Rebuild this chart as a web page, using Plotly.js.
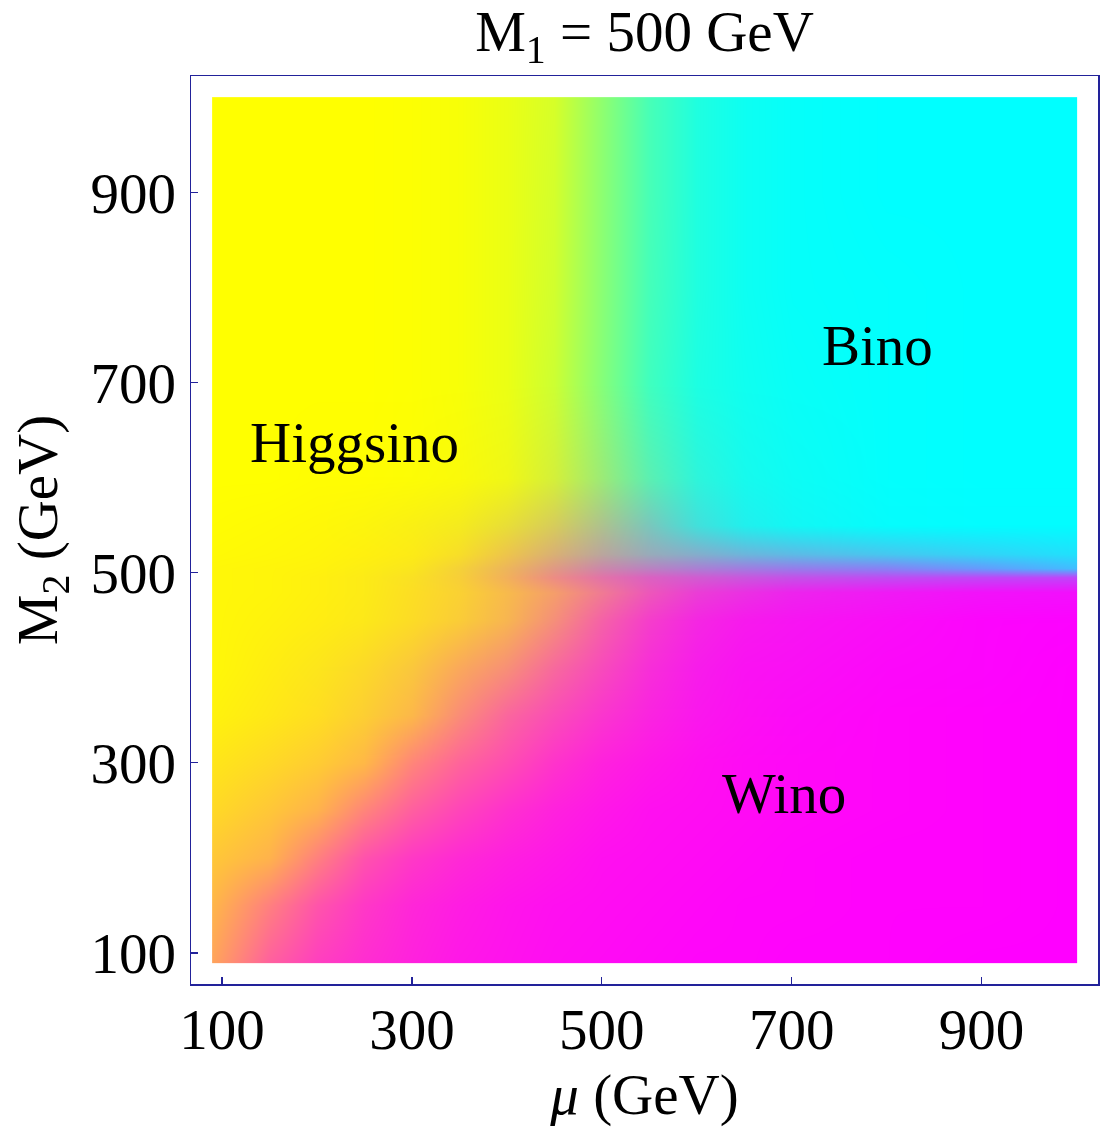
<!DOCTYPE html>
<html>
<head>
<meta charset="utf-8">
<script src="https://cdn.plot.ly/plotly-3.0.1.min.js"></script>
<style>
  html, body { margin: 0; padding: 0; background: #ffffff; }
  #chart .heatmaplayer image { mix-blend-mode: multiply; }
</style>
</head>
<body>
<div id="chart" style="width:1104px;height:1133px;"></div>
<script>
// grid of mu (columns) and M2 (rows), GeV
const MU = [90, 150, 200, 250, 300, 350, 400, 450, 500, 550, 600, 650, 700, 800, 900, 1000];
const M2 = [90, 150, 200, 250, 300, 350, 400, 450, 480, 495, 505, 520, 550, 600, 700, 800, 900, 1000];

// composition of the lightest neutralino in percent, rows follow M2, columns follow MU
const HIGGSINO = [
  [64, 38, 25, 18, 13,  9,  7,  5,  4,  3,  2,  2,  1,  1,  0,  0],
  [71, 50, 33, 22, 15, 11,  8,  6,  5,  4,  3,  2,  2,  1,  1,  0],
  [78, 70, 50, 32, 22, 16, 12,  9,  6,  5,  4,  3,  2,  1,  1,  0],
  [85, 78, 70, 52, 37, 27, 19, 13,  9,  6,  5,  4,  3,  2,  1,  0],
  [90, 85, 80, 72, 52, 39, 30, 20, 13,  9,  6,  4,  3,  2,  1,  0],
  [95, 91, 87, 80, 71, 53, 38, 28, 19, 12,  7,  5,  3,  2,  1,  0],
  [97, 93, 89, 84, 76, 64, 53, 38, 26, 15,  8,  5,  4,  2,  1,  0],
  [97, 95, 93, 90, 85, 78, 68, 52, 34, 20, 11,  7,  5,  3,  1,  0],
  [97, 96, 94, 91, 86, 80, 70, 58, 42, 27, 16, 11,  7,  4,  2,  1],
  [97, 96, 94, 91, 86, 78, 64, 48, 34, 24, 18, 13,  9,  5,  3,  2],
  [97, 96, 95, 92, 88, 78, 64, 48, 33, 24, 17, 12,  8,  4,  1,  0],
  [98, 97, 96, 94, 91, 84, 70, 54, 38, 27, 20, 14, 10,  6,  3,  1],
  [99, 98, 97, 95, 92, 88, 78, 64, 44, 26, 14,  7,  4,  1,  0,  0],
  [100,100, 99, 99, 98, 96, 91, 77, 53, 30, 14,  7,  4,  1,  0,  0],
  [100,100,100,100, 99, 97, 92, 80, 52, 25, 11,  6,  3,  1,  0,  0],
  [100,100,100,100, 99, 97, 92, 82, 54, 27, 12,  5,  2,  1,  0,  0],
  [100,100,100,100, 99, 97, 92, 83, 55, 28, 12,  5,  2,  0,  0,  0],
  [100,100,100,100, 99, 97, 92, 84, 56, 28, 12,  5,  2,  0,  0,  0]
];
const BINO = [
  [ 0,  0,  0,  0,  0,  0,  0,  0,  0,  0,  0,  0,  0,  0,  0,  0],
  [ 0,  0,  0,  0,  0,  0,  0,  0,  0,  0,  0,  0,  0,  0,  0,  0],
  [ 0,  0,  0,  0,  0,  0,  0,  0,  0,  0,  0,  0,  0,  0,  0,  0],
  [ 0,  0,  0,  0,  0,  0,  0,  0,  0,  0,  0,  0,  0,  0,  0,  0],
  [ 0,  0,  0,  0,  0,  0,  0,  0,  0,  0,  0,  0,  0,  0,  0,  0],
  [ 0,  0,  0,  1,  1,  2,  2,  2,  2,  2,  2,  1,  1,  0,  0,  0],
  [ 0,  0,  1,  1,  2,  2,  3,  3,  3,  3,  3,  2,  2,  1,  1,  0],
  [ 0,  0,  0,  1,  1,  2,  3,  4,  4,  4,  4,  3,  3,  2,  1,  1],
  [ 0,  0,  0,  1,  1,  2,  3,  4,  6,  7,  8,  8,  7,  6,  5,  5],
  [ 0,  0,  0,  1,  2,  3,  5,  7, 11, 14, 18, 21, 23, 25, 25, 25],
  [ 0,  0,  0,  1,  2,  4,  7, 12, 20, 27, 33, 37, 41, 47, 60, 74],
  [ 0,  0,  0,  0,  1,  3,  7, 15, 27, 40, 48, 57, 63, 72, 80, 87],
  [ 0,  0,  0,  1,  2,  4,  9, 16, 32, 52, 74, 87, 93, 98, 99, 99],
  [ 0,  0,  0,  0,  1,  2,  6, 17, 39, 64, 82, 91, 95, 99,100,100],
  [ 0,  0,  0,  0,  1,  3,  8, 20, 48, 75, 89, 94, 97, 99,100,100],
  [ 0,  0,  0,  0,  1,  3,  8, 18, 46, 73, 88, 95, 98, 99,100,100],
  [ 0,  0,  0,  0,  1,  3,  8, 17, 45, 72, 88, 95, 98,100,100,100],
  [ 0,  0,  0,  0,  1,  3,  8, 16, 44, 72, 88, 95, 98,100,100,100]
];
const WINO = [
  [36, 62, 75, 82, 87, 91, 93, 95, 96, 97, 98, 98, 99, 99,100,100],
  [29, 50, 67, 78, 85, 89, 92, 94, 95, 96, 97, 98, 98, 99, 99,100],
  [22, 30, 50, 68, 78, 84, 88, 91, 94, 95, 96, 97, 98, 99, 99,100],
  [15, 22, 30, 48, 63, 73, 81, 87, 91, 94, 95, 96, 97, 98, 99,100],
  [10, 15, 20, 28, 48, 61, 70, 80, 87, 91, 94, 96, 97, 98, 99,100],
  [ 5,  9, 13, 19, 28, 45, 60, 70, 79, 86, 91, 94, 96, 98, 99,100],
  [ 3,  7, 10, 15, 22, 34, 44, 59, 71, 82, 89, 93, 94, 97, 98,100],
  [ 3,  5,  7,  9, 14, 20, 29, 44, 62, 76, 85, 90, 92, 95, 98, 99],
  [ 3,  4,  6,  8, 13, 18, 27, 38, 52, 66, 76, 81, 86, 90, 93, 94],
  [ 3,  4,  6,  8, 12, 19, 31, 45, 55, 62, 64, 66, 68, 70, 72, 73],
  [ 3,  4,  5,  7, 10, 18, 29, 40, 47, 49, 50, 51, 51, 49, 39, 26],
  [ 2,  3,  4,  6,  8, 13, 23, 31, 35, 33, 32, 29, 27, 22, 17, 12],
  [ 1,  2,  3,  4,  6,  8, 13, 20, 24, 22, 12,  6,  3,  1,  1,  1],
  [ 0,  0,  1,  1,  1,  2,  3,  6,  8,  6,  4,  2,  1,  0,  0,  0],
  [ 0,  0,  0,  0,  0,  0,  0,  0,  0,  0,  0,  0,  0,  0,  0,  0],
  [ 0,  0,  0,  0,  0,  0,  0,  0,  0,  0,  0,  0,  0,  0,  0,  0],
  [ 0,  0,  0,  0,  0,  0,  0,  0,  0,  0,  0,  0,  0,  0,  0,  0],
  [ 0,  0,  0,  0,  0,  0,  0,  0,  0,  0,  0,  0,  0,  0,  0,  0]
];

const X_TICKS = [100, 300, 500, 700, 900];
const Y_TICKS = [100, 300, 500, 700, 900];
const REGION_LABELS = ['Higgsino', 'Bino', 'Wino'];
const REGION_MU = [240, 790, 692];
const REGION_M2 = [637, 739, 268];

// repeat the outermost grid nodes 1 GeV inside, so the cells end at the grid edge
function padAxis(a) {
  const n = a.length;
  return [a[0], a[0] + 1].concat(a.slice(1, n - 1), [a[n - 1] - 1, a[n - 1]]);
}
function padRow(r) {
  const n = r.length;
  return [r[0], r[0]].concat(r.slice(1, n - 1), [r[n - 1], r[n - 1]]);
}
function padGrid(g) {
  const rows = g.map(padRow);
  const n = rows.length;
  return [rows[0], rows[0]].concat(rows.slice(1, n - 1), [rows[n - 1], rows[n - 1]]);
}

const xs = padAxis(MU);
const ys = padAxis(M2);

function layerTrace(z, color) {
  return {
    type: 'heatmap',
    x: xs, y: ys, z: padGrid(z),
    zmin: 0, zmax: 100,
    zsmooth: 'best',
    colorscale: [[0, '#ffffff'], [1, color]],
    showscale: false,
    hoverinfo: 'skip'
  };
}

const data = [
  layerTrace(BINO, '#00ffff'),
  layerTrace(WINO, '#ff00ff'),
  layerTrace(HIGGSINO, '#ffff00')
];

const FONT = 'Liberation Serif, Times New Roman, serif';
const FRAME = '#22229a';
const RANGE = [67.25, 1022.75];

const axisCommon = {
  range: RANGE,
  showgrid: false, zeroline: false,
  showline: true, linecolor: FRAME, linewidth: 1.5, mirror: true,
  ticks: 'inside', ticklen: 7, tickwidth: 1.3, tickcolor: FRAME,
  tickfont: {family: FONT, size: 57, color: '#000'},
  tickmode: 'array'
};

const layout = {
  width: 1104, height: 1133,
  margin: {l: 191, r: 6, t: 76, b: 149, pad: 0},
  paper_bgcolor: '#ffffff', plot_bgcolor: '#ffffff',
  font: {family: FONT, size: 57, color: '#000'},
  title: {
    text: 'M<sub>1</sub> = 500 GeV',
    font: {family: FONT, size: 57, color: '#000'},
    x: 0.5, xref: 'paper', xanchor: 'center',
    y: 1 - 31 / 1133, yref: 'container', yanchor: 'middle'
  },
  xaxis: Object.assign({}, axisCommon, {
    tickvals: X_TICKS, ticktext: X_TICKS.map(String),
    ticklabelstandoff: -5,
    title: {text: '<i>μ</i> (GeV)', font: {family: FONT, size: 57, color: '#000'}, standoff: 14}
  }),
  yaxis: Object.assign({}, axisCommon, {
    tickvals: Y_TICKS, ticktext: Y_TICKS.map(String),
    ticklabelstandoff: 2,
    title: {text: 'M<sub>2</sub> (GeV)', font: {family: FONT, size: 57, color: '#000'}, standoff: 14}
  }),
  annotations: REGION_LABELS.map((t, i) => ({
    text: t, x: REGION_MU[i], y: REGION_M2[i], xref: 'x', yref: 'y',
    showarrow: false, xanchor: 'center', yanchor: 'middle',
    font: {family: FONT, size: 57, color: '#000'}
  })),
  showlegend: false
};

Plotly.newPlot('chart', data, layout, {displayModeBar: false, staticPlot: true});
</script>
</body>
</html>
